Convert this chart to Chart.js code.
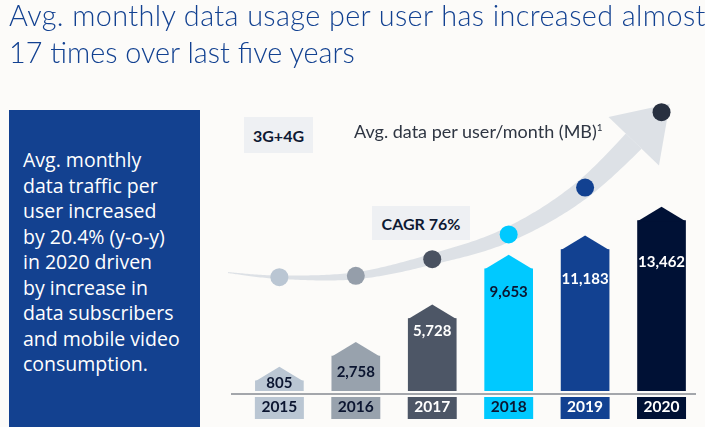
<!DOCTYPE html>
<html><head><meta charset="utf-8">
<script src="https://cdn.jsdelivr.net/npm/chart.js@4.4.1/dist/chart.umd.min.js"></script>
<style>
html,body{margin:0;padding:0;background:#fcfbf9;overflow:hidden;}
#wrap{position:relative;width:705px;height:427px;overflow:hidden;background:#fcfbf9;}
#c{position:absolute;left:0;top:0;}
.title{position:absolute;left:9px;top:-3px;font-family:Lato;font-weight:300;font-size:28.8px;line-height:37px;color:#124191;white-space:nowrap;}
.title .l1{letter-spacing:0.4px;}
.side{position:absolute;left:9px;top:110px;width:191px;height:317px;background:#134190;}
.side p{margin:0;position:absolute;left:14px;top:37px;font-family:"Open Sans";font-weight:400;font-size:19.5px;line-height:25.5px;color:#fff;white-space:nowrap;}
.tag{position:absolute;background:#eef0f3;font-family:Lato;font-weight:700;color:#0e1a33;display:flex;align-items:center;justify-content:center;}
.note{position:absolute;left:354px;top:121px;font-family:Lato;font-weight:400;font-size:18px;line-height:1.2;color:#2f3643;white-space:nowrap;}
.note sup{font-size:10px;vertical-align:7px;line-height:0;}
</style></head>
<body>
<div id="wrap">
  <canvas id="c" width="705" height="427"></canvas>
  <div class="title"><span class="l1">Avg. monthly data usage per user has increased almost</span><br>17 times over last five years</div>
  <div class="side"><p>Avg. monthly<br>data traffic per<br>user increased<br>by 20.4% (y-o-y)<br>in 2020 driven<br>by increase in<br>data subscribers<br>and mobile video<br>consumption.</p></div>
  <div class="tag" style="left:244px;top:117px;width:69px;height:36px;font-size:16px;">3G+4G</div>
  <div class="tag" style="left:372px;top:206px;width:98px;height:34px;font-size:16px;">CAGR 76%</div>
  <div class="note">Avg. data per user/month (MB)<sup>1</sup></div>
</div>
<script>
// ---- data ----
const years = ['2015', '2016', '2017', '2018', '2019', '2020'];
const avgMB = [805, 2758, 5728, 9653, 11183, 13462];
// growth-arrow dot levels (0-100 of plot height)
const trendLevels = [39.1, 39.6, 45.3, 53.8, 69.9, 95.8];
const trendTailLevel = 40.7;

// ---- styles ----
const barColors = ['#bac6d3', '#98a2ad', '#4d5666', '#00c9ff', '#124191', '#001135'];
const dotColors = ['#bac6d3', '#959eaa', '#4a5261', '#00c9ff', '#124191', '#283040'];
const textColors = ['#0b1530', '#0b1530', '#ffffff', '#0b1530', '#ffffff', '#ffffff'];
const labelDrop = [2, 15.6, 12.2, 23.4, 29.5, 41];
const bandColor = '#dde1e6';

function catmull(pts, seg) {
  const out = [];
  for (let i = 0; i < pts.length - 1; i++) {
    const p0 = pts[Math.max(i - 1, 0)], p1 = pts[i], p2 = pts[i + 1], p3 = pts[Math.min(i + 2, pts.length - 1)];
    for (let t = 0; t < seg; t++) {
      const s = t / seg, s2 = s * s, s3 = s2 * s;
      const f = k => 0.5 * ((2 * p1[k]) + (-p0[k] + p2[k]) * s + (2 * p0[k] - 5 * p1[k] + 4 * p2[k] - p3[k]) * s2 + (-p0[k] + 3 * p1[k] - 3 * p2[k] + p3[k]) * s3);
      out.push({x: f('x'), y: f('y')});
    }
  }
  out.push({x: pts[pts.length - 1].x, y: pts[pts.length - 1].y});
  return out;
}

const decor = {
  id: 'decor',
  beforeDraw(chart) {
    const {ctx, scales: {x, y}} = chart;
    ctx.save();
    ctx.strokeStyle = '#a3a6ab';
    ctx.lineWidth = 2;
    ctx.beginPath();
    ctx.moveTo(x.left + 1, y.bottom + 3);
    ctx.lineTo(x.right, y.bottom + 3);
    ctx.stroke();
    years.forEach((yr, i) => {
      const px = x.getPixelForValue(i);
      ctx.fillStyle = barColors[i];
      ctx.fillRect(px - 24.5, y.bottom + 6, 49, 22);
    });
    ctx.restore();
  },
  beforeDatasetsDraw(chart) {
    const {ctx, scales: {x, y2}} = chart;
    const dots = chart.getDatasetMeta(0).data.map(p => ({x: p.x, y: p.y}));
    const pts = [{x: x.left - 2, y: y2.getPixelForValue(trendTailLevel)}].concat(dots);
    const s = catmull(pts, 30);
    const len = [0];
    for (let i = 1; i < s.length; i++) len.push(len[i - 1] + Math.hypot(s[i].x - s[i - 1].x, s[i].y - s[i - 1].y));
    const L = len[len.length - 1];
    const Lb = L - 40;
    const left = [], right = [];
    let B = null;
    for (let i = 0; i < s.length - 1; i++) {
      if (len[i] > Lb) break;
      const a = s[i], b = s[i + 1];
      let dx = b.x - a.x, dy = b.y - a.y; const d = Math.hypot(dx, dy) || 1; dx /= d; dy /= d;
      const w = (1 + 21 * len[i] / Lb) / 2;
      left.push({x: a.x - dy * w, y: a.y + dx * w});
      right.push({x: a.x + dy * w, y: a.y - dx * w});
      B = a;
    }
    const end = dots[dots.length - 1];
    let ux = end.x - B.x, uy = end.y - B.y; const ud = Math.hypot(ux, uy); ux /= ud; uy /= ud;
    const wB = 11;
    ctx.save();
    ctx.fillStyle = bandColor;
    ctx.beginPath();
    left.forEach((p, i) => i ? ctx.lineTo(p.x, p.y) : ctx.moveTo(p.x, p.y));
    ctx.lineTo(B.x - uy * wB, B.y + ux * wB);
    ctx.lineTo(B.x + uy * wB, B.y - ux * wB);
    for (let i = right.length - 1; i >= 0; i--) ctx.lineTo(right[i].x, right[i].y);
    ctx.closePath();
    ctx.fill();
    const hw = 35, hl = 52;
    ctx.beginPath();
    ctx.moveTo(B.x - uy * hw, B.y + ux * hw);
    ctx.lineTo(B.x + ux * hl, B.y + uy * hl);
    ctx.lineTo(B.x + uy * hw, B.y - ux * hw);
    ctx.closePath();
    ctx.fill();
    ctx.restore();
  },
  afterDatasetsDraw(chart) {
    const {ctx} = chart;
    const meta = chart.getDatasetMeta(1);
    ctx.save();
    meta.data.forEach((bar, i) => {
      const w = bar.width;
      ctx.fillStyle = barColors[i];
      ctx.beginPath();
      ctx.moveTo(bar.x - w / 2, bar.y + 0.5);
      ctx.lineTo(bar.x, bar.y - 14);
      ctx.lineTo(bar.x + w / 2, bar.y + 0.5);
      ctx.closePath();
      ctx.fill();
      ctx.fillStyle = textColors[i];
      ctx.font = 'bold 15px Lato';
      ctx.textAlign = 'center';
      ctx.textBaseline = 'middle';
      ctx.fillText(avgMB[i].toLocaleString('en-US'), bar.x, bar.y + labelDrop[i]);
    });
    ctx.restore();
  }
};

new Chart(document.getElementById('c'), {
  data: {
    datasets: [
      {type: 'line', data: trendLevels.map((v, i) => ({x: i, y: v})), yAxisID: 'y2', showLine: false,
       pointRadius: 9, pointHoverRadius: 9, pointBackgroundColor: dotColors, pointBorderWidth: 0, clip: false, order: 0},
      {type: 'bar', data: avgMB.map((v, i) => ({x: i, y: v})), yAxisID: 'y', backgroundColor: barColors,
       barThickness: 48, borderWidth: 0, order: 1}
    ]
  },
  options: {
    responsive: false, animation: false, devicePixelRatio: 1, events: [],
    layout: {padding: {left: 230, top: 100, right: 0, bottom: 0}},
    plugins: {legend: {display: false}, tooltip: {enabled: false}},
    scales: {
      x: {type: 'linear', offset: false, min: -0.646, max: 5.451,
          grid: {display: false, drawTicks: false, offset: false}, border: {display: false},
          afterBuildTicks: s => { s.ticks = years.map((_, i) => ({value: i})); },
          afterFit: s => { s.height = 36; },
          ticks: {callback: v => years[v], font: {family: 'Lato', weight: 'bold', size: 15.5},
                  color: c => textColors[c.index], padding: 7, maxRotation: 0, autoSkip: false}},
      y: {display: false, min: 0, max: 23000},
      y2: {display: false, min: 0, max: 100}
    }
  },
  plugins: [decor]
});
</script>
</body></html>
